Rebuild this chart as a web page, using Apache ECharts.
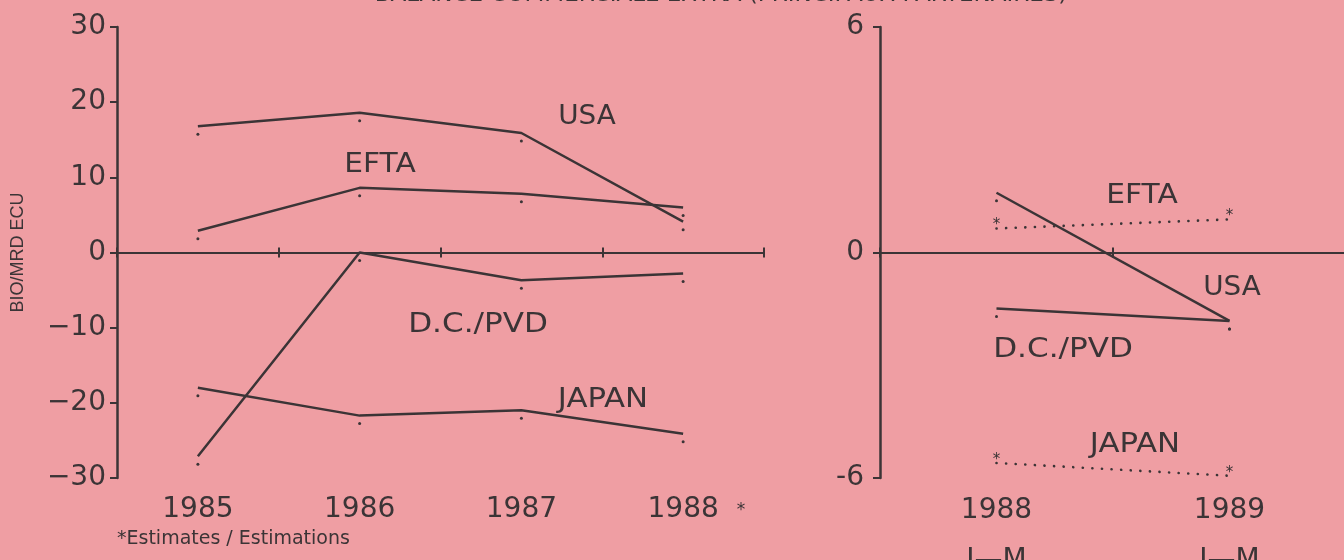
<!DOCTYPE html>
<html><head><meta charset="utf-8">
<script src="https://cdn.jsdelivr.net/npm/echarts@6/dist/echarts.min.js"></script>
<style>html,body{margin:0;padding:0;background:#ef9ea3;}#c{width:1344px;height:560px;}</style>
</head><body><div id="c"></div>
<script>
// ---- data ----
const yearsA = ['1985', '1986', '1987', '1988'];
const usaA = [16.8, 18.6, 15.9, 4.1];
const eftaA = [2.9, 8.6, 7.8, 6.0];
const dcA = [-27.1, 0, -3.7, -2.8];
const japanA = [-18.0, -21.7, -21.0, -24.1];
const yTicksA = [-30, -20, -10, 0, 10, 20, 30];

const periodsB = ['1988\nJ—M', '1989\nJ—M'];
const usaB = [1.59, -1.82];
const dcB = [-1.49, -1.82];
const eftaB = [0.64, 0.88];
const japanB = [-5.6, -5.94];
const yTicksB = [-6, 0, 6];

const INK = '#3b3436';
const FONT = '"DejaVu Sans", "Liberation Sans", Arial, sans-serif';

const chart = echarts.init(document.getElementById('c'), null, {renderer: 'canvas'});

function zeroAxis(grid, data, yIdx, inside) {
  return {
    type: 'category', gridIndex: grid, data: data, position: 'bottom',
    axisLine: {show: true, onZero: true, onZeroAxisIndex: yIdx, lineStyle: {color: INK, width: 2}},
    axisTick: {show: true, inside: inside, length: 5, lineStyle: {color: INK, width: 2}},
    axisLabel: {show: false}, splitLine: {show: false}
  };
}
function labelAxis(grid, data, margin, lineHeight) {
  const lab = {show: true, color: INK, fontFamily: FONT, fontSize: 28, margin: margin};
  if (lineHeight) lab.lineHeight = lineHeight;
  return {
    type: 'category', gridIndex: grid, data: data, position: 'bottom',
    axisLine: {show: false, onZero: false}, axisTick: {show: false}, splitLine: {show: false},
    axisLabel: lab
  };
}
function lineSeries(x, y, data) {
  return {
    type: 'line', xAxisIndex: x, yAxisIndex: y, data: data,
    symbol: 'circle', symbolSize: 3, symbolOffset: [0, 8], showSymbol: true,
    lineStyle: {color: INK, width: 2.5}, itemStyle: {color: INK},
    emphasis: {disabled: true}, silent: true
  };
}
function dottedSeries(x, y, data) {
  return {
    type: 'line', xAxisIndex: x, yAxisIndex: y, data: data,
    symbol: 'circle', symbolSize: 1, itemStyle: {color: 'rgba(0,0,0,0)'},
    lineStyle: {color: INK, width: 2.6, type: [0.1, 9.5], cap: 'round'},
    label: {show: true, formatter: '*', color: INK, fontSize: 15, fontFamily: FONT, position: 'top', distance: -5},
    emphasis: {disabled: true}, silent: true
  };
}
function lbl(text, x, y, sx, size) {
  return {type: 'text', x: x, y: y, scaleX: sx || 1, silent: true,
    style: {text: text, fill: INK, font: (size || 27) + 'px ' + FONT, align: 'center', verticalAlign: 'middle'}};
}

chart.setOption({
  animation: false,
  backgroundColor: '#ef9ea3',
  grid: [
    {left: 117, top: 27, width: 647, height: 451, outerBoundsMode: 'none', containLabel: false},
    {left: 880, top: 27, width: 466, height: 451, outerBoundsMode: 'none', containLabel: false}
  ],
  xAxis: [
    zeroAxis(0, yearsA, 0, false),
    zeroAxis(0, yearsA, 0, true),
    labelAxis(0, yearsA, 18),
    zeroAxis(1, periodsB, 1, false),
    zeroAxis(1, periodsB, 1, true),
    labelAxis(1, periodsB, 8, 50)
  ],
  yAxis: [
    {type: 'value', gridIndex: 0, min: yTicksA[0], max: yTicksA[yTicksA.length - 1], interval: 10,
     name: 'BIO/MRD ECU', nameLocation: 'middle', nameGap: 90, nameRotate: 90,
     nameTextStyle: {color: INK, fontFamily: '"Liberation Sans", Arial, sans-serif', fontSize: 18},
     axisLine: {show: true, lineStyle: {color: INK, width: 2.5}},
     axisTick: {show: true, length: 7, lineStyle: {color: INK, width: 2}},
     axisLabel: {color: INK, fontFamily: FONT, fontSize: 28, margin: 11,
       formatter: v => String(v).replace('-', '\u2212')},
     splitLine: {show: false}},
    {type: 'value', gridIndex: 1, min: yTicksB[0], max: yTicksB[yTicksB.length - 1], interval: 6,
     axisLine: {show: true, lineStyle: {color: INK, width: 2.5}},
     axisTick: {show: true, length: 7, lineStyle: {color: INK, width: 2}},
     axisLabel: {color: INK, fontFamily: FONT, fontSize: 28, margin: 16},
     splitLine: {show: false}}
  ],
  series: [
    lineSeries(0, 0, usaA),
    lineSeries(0, 0, eftaA),
    lineSeries(0, 0, dcA),
    lineSeries(0, 0, japanA),
    lineSeries(3, 1, usaB),
    lineSeries(3, 1, dcB),
    dottedSeries(3, 1, eftaB),
    dottedSeries(3, 1, japanB)
  ],
  graphic: [
    lbl('BALANCE COMMERCIALE EXTRA (PRINCIPAUX PARTENAIRES)', 721, -5, 1, 23),
    lbl('USA', 587, 117, 1.03), lbl('EFTA', 380, 165, 1.1), lbl('D.C./PVD', 478, 325, 1.15), lbl('JAPAN', 603, 400, 1.14),
    lbl('EFTA', 1142, 196, 1.1), lbl('USA', 1232, 288, 1.03), lbl('D.C./PVD', 1063, 350, 1.15), lbl('JAPAN', 1135, 445, 1.14),
    lbl('*', 741, 511, 1, 17),
    {type: 'text', x: 117, y: 539, silent: true,
     style: {text: '*Estimates / Estimations', fill: INK, font: '19px ' + FONT, align: 'left', verticalAlign: 'middle'}}
  ]
});
</script>
</body></html>
